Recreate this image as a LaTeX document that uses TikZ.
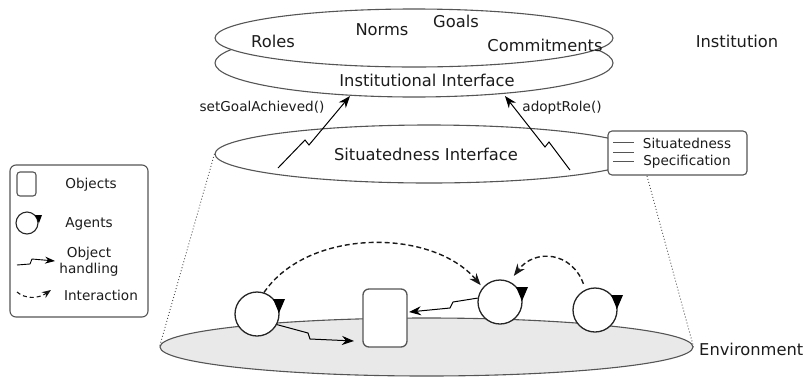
\documentclass[tikz,border=0pt]{standalone}
\usepackage{fontspec}
\setmainfont{DejaVu Sans}
\usetikzlibrary{arrows.meta,shapes.geometric}
\definecolor{txt}{HTML}{1C1C1C}
\definecolor{edge}{HTML}{555555}
\definecolor{envfill}{HTML}{E9E9E9}
\begin{document}
\begin{tikzpicture}[x=1pt,y=-1pt,
  big/.style={font=\fontsize{16.3}{18}\selectfont, text=txt, anchor=base, inner sep=0pt},
  small/.style={font=\fontsize{13.6}{15}\selectfont, text=txt, anchor=base, inner sep=0pt},
  layer/.style={ellipse, draw=edge, line width=1.1pt, fill=white, inner sep=0pt},
  agent/.style={circle, draw=black!85, line width=1.3pt, fill=white, minimum size=44pt, inner sep=0pt},
  object/.style={rectangle, rounded corners=6pt, draw=edge, line width=1.3pt, fill=white, minimum width=44pt, minimum height=58pt, inner sep=0pt},
  handle/.style={draw=black, line width=1pt, -{Stealth[length=12pt,width=9pt]}},
  interact/.style={draw=black!90, line width=1.4pt, dash pattern=on 5pt off 3pt, -{Stealth[length=12pt,width=9pt]}},
  turn/.style={fill=black},
  dots/.style={draw=black!70, line width=0.9pt, dash pattern=on 0.9pt off 2.2pt},
]
\useasboundingbox (0,0) rectangle (804,376);

% environment plane
\node[ellipse, draw=edge, line width=1.1pt, fill=envfill, inner sep=0pt,
      minimum width=533pt, minimum height=58pt] (env) at (426.5,347) {};
\node[big, anchor=base west] (envlbl) at (699,355) {Environment};

% situatedness interface and its specification
\node[layer, minimum width=428pt, minimum height=58pt] (sit) at (429,154) {};
\node[big] (sitlbl) at (426,160) {Situatedness Interface};
\node[rectangle, rounded corners=4pt, draw=edge, line width=1.1pt, fill=white,
      minimum width=139pt, minimum height=44pt, inner sep=0pt] (spec) at (677.5,153) {};
\draw[edge, line width=1pt] (613,142) -- (634,142) (613,152) -- (634,152) (613,161) -- (634,161);
\node[small] (spec1) at (687,148) {Situatedness};
\node[small] (spec2) at (687,165) {Specification};

% institution layers
\node[layer, minimum width=398pt, minimum height=68pt] (inst) at (414,63) {};
\node[layer, minimum width=398pt, minimum height=58pt] (norms) at (414,38) {};
\node[big] (goals) at (456,27) {Goals};
\node[big] (nrm) at (382,35) {Norms};
\node[big] (roles) at (273,47) {Roles};
\node[big] (comm) at (545,51) {Commitments};
\node[big] (instlbl) at (427,86) {Institutional Interface};
\node[big] (institution) at (737,47) {Institution};

% calls from the situatedness interface to the institution
\coordinate (cl0) at (278,168);
\coordinate (cl1) at (350,96);
\coordinate (cr0) at (570,170);
\coordinate (cr1) at (505,96);
\draw[handle] (cl0) -- (305,140) -- (309,145) -- (cl1);
\draw[handle] (cr0) -- (549,142) -- (545,147) -- (cr1);
\node[small] (callL) at (262,111) {setGoalAchieved()};
\node[small] (callR) at (562,111) {adoptRole()};

% projection lines
\draw[dots] (sit.west) -- (env.west);
\coordinate (specfoot) at (647,176);
\draw[dots] (specfoot) -- (env.east);

% agents and object in the environment
\node[object] (obj) at (385,318) {};
\node[agent] (a1) at (257,314) {};
\node[agent] (a2) at (500,302) {};
\node[agent] (a3) at (595,310) {};
\foreach \a in {a1,a2,a3}
  \fill[turn] ([shift={(16pt,15pt)}]\a.center) -- ([shift={(28pt,15pt)}]\a.center) -- ([shift={(22pt,1pt)}]\a.center) -- cycle;

\coordinate (h1e) at (354,341);
\coordinate (h2e) at (409,312);
\draw[handle] (a1.-28) -- (308,333) -- (310,339) -- (h1e);
\draw[handle] (a2.170) -- (453,302) -- (450,308) -- (h2e);

\draw[interact, shorten >=3pt] (a1.72) .. controls (308,228) and (432,228) .. (a2.140);
\draw[interact, shorten <=6pt, shorten >=7pt] (a3.115) .. controls (572,252) and (535,248) .. (a2.65);

% legend
\node[rectangle, rounded corners=6pt, draw=edge, line width=1.1pt, fill=white,
      minimum width=138pt, minimum height=152pt, inner sep=0pt] (legend) at (79,241) {};
\node[rectangle, rounded corners=3pt, draw=edge, line width=1.1pt, fill=white,
      minimum width=19pt, minimum height=24pt, inner sep=0pt] (lgobj) at (26.5,184) {};
\node[small] (lgobjt) at (91,188) {Objects};
\node[circle, draw=black!85, line width=1.1pt, fill=white, minimum size=22pt, inner sep=0pt] (lgag) at (27,223) {};
\fill[turn] ([shift={(8pt,8pt)}]lgag.center) -- ([shift={(15pt,8pt)}]lgag.center) -- ([shift={(12pt,0pt)}]lgag.center) -- cycle;
\node[small] (lgagt) at (89,227) {Agents};
\coordinate (lgh0) at (17,265);
\coordinate (lgh1) at (55,261);
\draw[draw=black, line width=0.9pt, -{Stealth[length=10pt,width=7pt]}] (lgh0) -- (30,264) -- (32,259) -- (lgh1);
\node[small] (lght1) at (89,257) {Object};
\node[small] (lght2) at (89,273) {handling};
\coordinate (lgi0) at (17,292);
\coordinate (lgi1) at (51,290);
\draw[draw=black!90, line width=1.1pt, dash pattern=on 4pt off 3pt, -{Stealth[length=9pt,width=7pt]}] (lgi0) .. controls (25,299) and (38,299) .. (lgi1);
\node[small] (lgit) at (101,300) {Interaction};
\end{tikzpicture}
\end{document}
